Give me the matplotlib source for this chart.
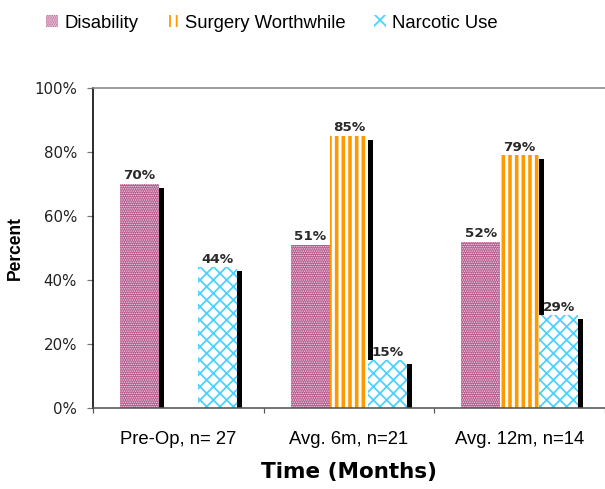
import numpy as np
import matplotlib
matplotlib.use("Agg")
import matplotlib.pyplot as plt
from matplotlib.patches import Patch
import matplotlib.patheffects as pe

# Data
categories = ["Pre-Op, n= 27", "Avg. 6m, n=21", "Avg. 12m, n=14"]
series_names = ["Disability", "Surgery Worthwhile", "Narcotic Use"]
disability = [70, 51, 52]
surgery_worthwhile = [np.nan, 85, 79]
narcotic_use = [44, 15, 29]
y_ticks = [0, 20, 40, 60, 80, 100]

DPI = 80
def pt(px):
    return px * 72.0 / DPI

fig = plt.figure(figsize=(605 / DPI, 489 / DPI), dpi=DPI)
ax = fig.add_axes([93 / 605, 1 - 408 / 489, 1 - 93 / 605, (408 - 88) / 489])

styles = [
    dict(facecolor="#b4588b", edgecolor="#f2d8e6", hatch="......"),
    dict(facecolor="white", edgecolor="#ff9900", hatch="||"),
    dict(facecolor="white", edgecolor="#4dd2ff", hatch="xx"),
]
hatch_lw = [pt(1.0), pt(3.6), pt(1.8)]

x = np.arange(len(categories))
width = 0.228
offsets = [-width, 0, width]
shadow = [pe.SimplePatchShadow(offset=(pt(5), pt(-4)), shadow_rgbFace="black",
                               alpha=1.0, hatch=None), pe.Normal()]

for vals, off, st, hlw in zip([disability, surgery_worthwhile, narcotic_use],
                              offsets, styles, hatch_lw):
    vals = np.asarray(vals, dtype=float)
    ok = ~np.isnan(vals)
    plt.rcParams["hatch.linewidth"] = hlw
    bars = ax.bar(x[ok] + off, vals[ok], width=width, linewidth=0,
                  path_effects=shadow, **st)
    for b, v in zip(bars, vals[ok]):
        ax.annotate(f"{v:.0f}%", (b.get_x() + b.get_width() / 2, v),
                    xytext=(0, pt(1.5)), textcoords="offset points",
                    ha="center", va="bottom", fontsize=pt(13.5),
                    fontweight="bold", color="#2a2a2a", family="DejaVu Sans")

ax.set_xlim(-0.5, 2.5)
ax.set_ylim(0, 100)
ax.set_yticks(y_ticks)
ax.set_yticklabels([f"{t}%" for t in y_ticks])
ax.tick_params(axis="y", direction="out", length=pt(6), width=pt(1.2),
               color="#777777", pad=pt(10), labelsize=pt(15), labelcolor="#222222")
ax.set_xticks(x)
ax.set_xticklabels(categories, fontsize=pt(18.5), family="Liberation Sans")
ax.tick_params(axis="x", which="major", length=0, pad=pt(23))
ax.set_xticks([-0.5, 0.5, 1.5, 2.5], minor=True)
ax.tick_params(axis="x", which="minor", direction="out", length=pt(5),
               width=pt(1.2), color="#555555")

ax.spines["left"].set_color("black")
ax.spines["left"].set_linewidth(pt(1.6))
ax.spines["bottom"].set_color("#555555")
ax.spines["bottom"].set_linewidth(pt(1.6))
ax.spines["top"].set_color("#888888")
ax.spines["top"].set_linewidth(pt(1.6))
ax.spines["right"].set_visible(False)

ax.set_ylabel("Percent", fontsize=pt(17.5), fontweight="bold",
              family="Liberation Sans", va="center")
ax.yaxis.set_label_coords((15 - 93) / 512, 0.5)
ax.set_xlabel("Time (Months)", fontsize=pt(21.5), fontweight="bold",
              family="DejaVu Sans", labelpad=pt(14))

handles = []
for name, st in zip(series_names, styles):
    handles.append(Patch(linewidth=0, label=name, **st))
plt.rcParams["hatch.linewidth"] = pt(1.8)
leg = fig.legend(handles=handles, loc="center", ncol=3, frameon=False,
                 bbox_to_anchor=(272 / 605, 1 - 23 / 489),
                 prop=dict(family="Liberation Sans", size=pt(18.5)),
                 handlelength=0.65, handleheight=0.65, handletextpad=0.35,
                 columnspacing=1.5)

fig.savefig("out.png", dpi=DPI)
